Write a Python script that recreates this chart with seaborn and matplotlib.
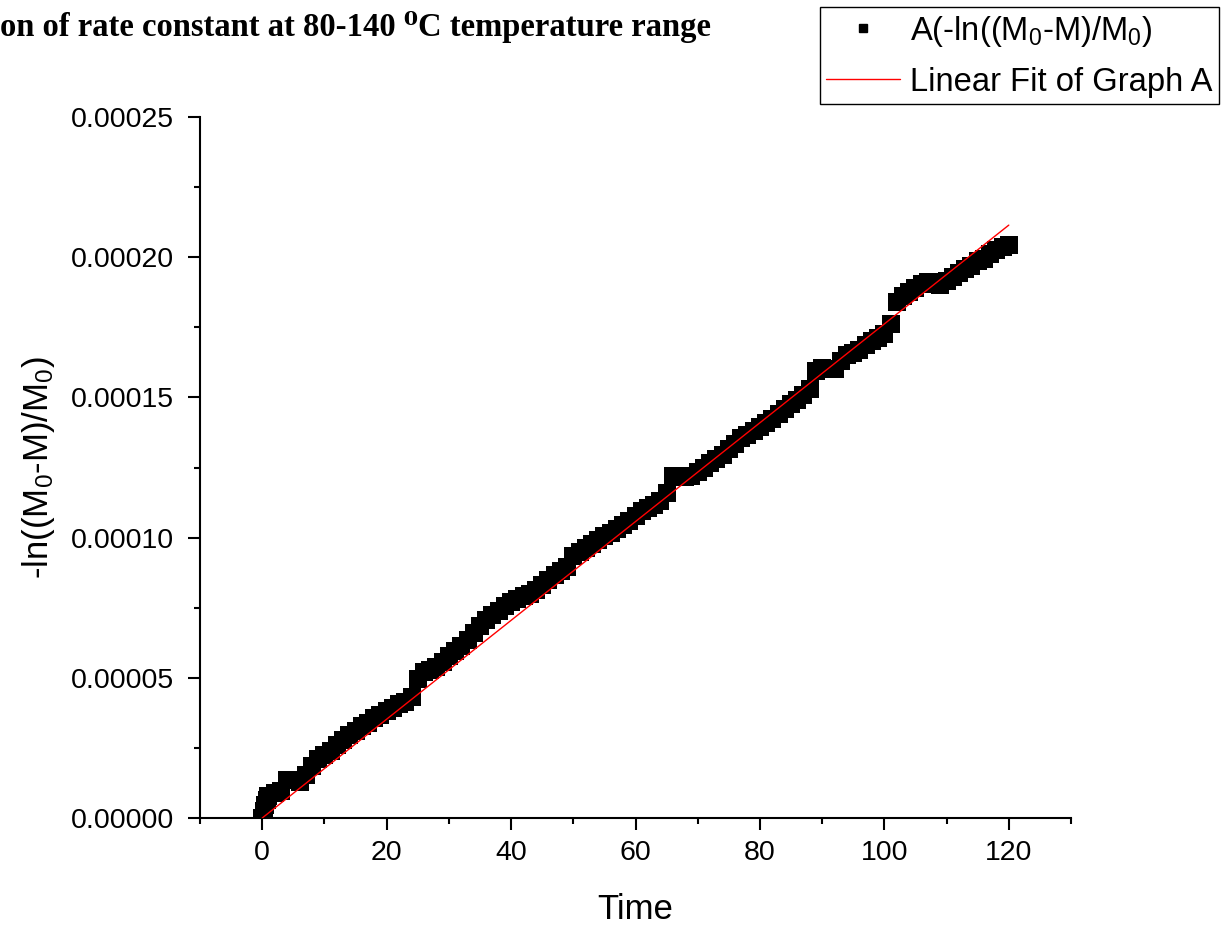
import numpy as np
import pandas as pd
import matplotlib
matplotlib.use("Agg")
import matplotlib.pyplot as plt
import seaborn as sns
from matplotlib.lines import Line2D
from matplotlib.ticker import MultipleLocator, FormatStrFormatter

# ---- data ----
time = [0, 0.25, 0.5, 0.75, 1, 2, 3, 4, 5, 6, 7, 8, 9, 10, 11, 12, 13, 14, 15,
        16, 17, 18, 19, 20, 21, 22, 23, 24, 25, 26, 27, 28, 29, 30, 31, 32, 33,
        34, 35, 36, 37, 38, 39, 40, 41, 42, 43, 44, 45, 46, 47, 48, 49, 50, 51,
        52, 53, 54, 55, 56, 57, 58, 59, 60, 61, 62, 63, 64, 65, 66, 67, 68, 69,
        70, 71, 72, 73, 74, 75, 76, 77, 78, 79, 80, 81, 82, 83, 84, 85, 86, 87,
        88, 89, 90, 91, 92, 93, 94, 95, 96, 97, 98, 99, 100, 101, 102, 103, 104,
        105, 106, 107, 108, 109, 110, 111, 112, 113, 114, 115, 116, 117, 118,
        119, 120]
# -ln((M0-M)/M0) in units of 1e-5
value_e5 = [0.0, 0.25, 0.45, 0.65, 0.8, 0.9, 0.95, 1.35, 1.35, 1.3, 1.55, 1.85,
            2.1, 2.25, 2.4, 2.6, 2.78, 2.95, 3.1, 3.27, 3.4, 3.55, 3.68, 3.8,
            3.94, 4.06, 4.15, 4.3, 4.95, 5.2, 5.28, 5.4, 5.58, 5.77, 5.97, 6.15,
            6.35, 6.6, 6.85, 7.05, 7.25, 7.4, 7.55, 7.7, 7.82, 7.92, 8.0, 8.12,
            8.3, 8.5, 8.65, 8.8, 8.95, 9.35, 9.48, 9.62, 9.78, 9.9, 10.05, 10.18,
            10.3, 10.45, 10.6, 10.78, 10.95, 11.05, 11.15, 11.3, 11.6, 12.2,
            12.15, 12.15, 12.2, 12.35, 12.5, 12.65, 12.8, 12.95, 13.15, 13.35,
            13.55, 13.65, 13.8, 13.95, 14.08, 14.22, 14.4, 14.6, 14.78, 14.92,
            15.08, 15.3, 15.95, 16.05, 16.0, 16.0, 16.3, 16.5, 16.58, 16.7,
            16.87, 17.0, 17.12, 17.25, 17.6, 18.4, 18.6, 18.75, 18.9, 19.05,
            19.12, 19.1, 19.02, 19.15, 19.28, 19.45, 19.58, 19.7, 19.85, 19.95,
            20.1, 20.25, 20.38, 20.45]
value_scale = 1e-5

fit_intercept = 0.0
fit_slope = 1.762e-6
fit_time = [0, 120]

x_ticks_major = [0, 20, 40, 60, 80, 100, 120]
series_label = "A(-ln((M$_0$-M)/M$_0$)"
fit_label = "Linear Fit of Graph A"
title_text = "on of rate constant at 80-140 \u2070C temperature range"
x_label = "Time"
y_label = "-ln((M$_0$-M)/M$_0$)"

# ---- style ----
sns.set_style("ticks")
plt.rcParams["font.family"] = ["Liberation Sans", "DejaVu Sans"]
plt.rcParams["mathtext.fontset"] = "custom"
plt.rcParams["mathtext.rm"] = "Liberation Sans"
plt.rcParams["mathtext.it"] = "Liberation Sans:italic"
plt.rcParams["mathtext.bf"] = "Liberation Sans:bold"
plt.rcParams["mathtext.default"] = "regular"
for key in ["text.color", "axes.labelcolor", "xtick.color", "ytick.color",
            "axes.edgecolor"]:
    plt.rcParams[key] = "black"

df = pd.DataFrame({"Time": time,
                   "value": np.array(value_e5) * value_scale})
fit_t = np.array(fit_time, dtype=float)
fit_df = pd.DataFrame({"Time": fit_t, "value": fit_intercept + fit_slope * fit_t})

W, H = 1222, 926
fig = plt.figure(figsize=(W / 100, H / 100), dpi=100)
ax = fig.add_axes([200 / W, 1 - 818 / H, 871 / W, 701 / H])

sns.scatterplot(data=df, x="Time", y="value", marker="s", s=170,
                color="black", linewidth=0, ax=ax, legend=False, zorder=2)
sns.lineplot(data=fit_df, x="Time", y="value", color="red", linewidth=1.0,
             ax=ax, zorder=3)

ax.set_xlim(-10, 130)
ax.set_ylim(0, 0.00025)
ax.set_xticks(x_ticks_major)
ax.xaxis.set_minor_locator(MultipleLocator(10))
ax.yaxis.set_major_locator(MultipleLocator(0.00005))
ax.yaxis.set_minor_locator(MultipleLocator(0.000025))
ax.yaxis.set_major_formatter(FormatStrFormatter("%.5f"))

for side in ["top", "right"]:
    ax.spines[side].set_visible(False)
for side in ["left", "bottom"]:
    ax.spines[side].set_linewidth(1.5)
    ax.spines[side].set_color("black")

ax.tick_params(which="major", length=8.6, width=1.5, direction="out",
               labelsize=20.5, color="black", labelcolor="black")
ax.tick_params(which="minor", length=4.3, width=1.5, direction="out",
               color="black")
ax.tick_params(axis="x", which="major", pad=7)
ax.tick_params(axis="y", which="major", pad=10)

ax.set_xlabel(x_label, fontsize=25, labelpad=20, color="black")
ax.set_ylabel(y_label, fontsize=25, labelpad=10, color="black")

handles = [Line2D([], [], marker="s", color="black", linestyle="none",
                  markersize=5.5),
           Line2D([], [], color="red", linewidth=1.0)]
leg = fig.legend(handles, [series_label, fit_label], loc="upper right",
                 bbox_to_anchor=(1219 / W, 1 - 7 / H), frameon=True,
                 fancybox=False, edgecolor="black", framealpha=1,
                 fontsize=23.6, handlelength=2.25, handletextpad=0.3,
                 borderpad=0.2, labelspacing=0.55, borderaxespad=0)
leg.get_frame().set_linewidth(1.0)
for t in leg.get_texts():
    t.set_color("black")

fig.text(0.0, 1 - 11 / H, title_text, ha="left", va="top", fontsize=23.5,
         fontweight="bold", color="black",
         family=["Liberation Serif", "DejaVu Serif"])

fig.savefig("out.png", dpi=100, facecolor="white")
